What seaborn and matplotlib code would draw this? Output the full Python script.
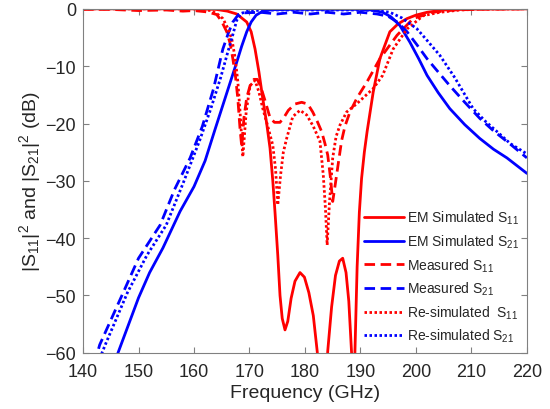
import matplotlib
matplotlib.use("Agg")
import matplotlib.pyplot as plt
import seaborn as sns
import pandas as pd

# ---------------- data ----------------
em_s11_f = [140, 150, 160, 164, 166, 167.7, 169.5, 170.3, 171, 171.7, 172.4, 173.1, 173.7, 174.2,
            174.6, 175.1, 175.5, 175.9, 176.4, 176.9, 177.5, 178.2, 179.1, 179.9, 180.7, 181.5,
            182.2, 182.8, 183.3, 183.8, 184.1, 184.8, 185.5, 186.2, 186.8, 187.4, 187.9, 188.4,
            188.7, 189.0, 189.4, 189.8, 190.2, 190.7, 191.2, 192.3, 193.5, 195.3, 196.8, 198.4,
            200, 202, 205, 210, 220]
em_s11_db = [0, 0, 0, -0.1, -0.4, -0.9, -2.3, -4, -7, -11, -15.7, -20, -24.3, -30,
             -35.5, -43, -50, -54, -56, -54.5, -50.5, -47.5, -46, -46.8, -49.5, -53.5,
             -59.7, -66, -75, -66, -59.7, -52, -46.5, -44, -43.5, -46, -51, -60,
             -68, -60, -45, -35.5, -29.6, -25, -21.4, -14.5, -8.7, -4, -2.6, -1.7,
             -1.1, -0.6, -0.2, -0.05, 0]

em_s21_f = [144, 146.3, 150, 152, 154.4, 157.5, 160, 162, 163.8, 165.6, 166.7, 167.7, 168.6,
            169.5, 170.3, 171.2, 172.4, 174, 178, 185, 190, 192, 194, 195.5, 197.1, 198.9,
            200.5, 202, 204, 206.1, 208.8, 211.5, 214, 216.4, 220]
em_s21_db = [-66, -60, -50.4, -46, -41.7, -35.3, -31, -26.5, -21, -15.6, -12.3, -9.3, -6.5,
             -4, -2.3, -1.1, -0.4, -0.15, -0.1, -0.1, -0.1, -0.2, -0.6, -1.4, -2.9, -5.8,
             -8.7, -11.6, -14.6, -17.4, -20.2, -22.6, -24.5, -26, -28.7]

meas_s11_f = [140, 145, 150, 155, 158, 160, 162, 163, 164.1, 165, 165.9, 166.5, 167, 167.5,
              167.9, 168.3, 168.6, 169, 169.5, 170.1, 170.8, 171.4, 172, 172.8, 173.7, 174.5,
              175.5, 176.3, 177, 178.2, 179.4, 180.5, 181.4, 182.2, 183, 183.6, 184.1, 184.6,
              185, 185.4, 186, 186.6, 187.2, 188.1, 189.4, 191.2, 193.5, 196.6, 199.5, 203,
              207, 212, 220]
meas_s11_db = [-0.1, -0.1, -0.3, -0.2, -0.4, -0.3, -0.5, -0.7, -1.0, -2.2, -4, -6, -8.7, -12,
               -15.7, -21, -24, -19, -15.5, -13.4, -12.3, -12.3, -13.5, -16, -19, -19.8,
               -19.8, -18.8, -17.7, -16.6, -16.3, -16.6, -18, -19.6, -21.4, -23.5, -25.5, -29.5,
               -33.6, -31, -27, -23, -20.5, -18, -15.5, -12.7, -8.7, -4.6, -1.7, -0.6,
               -0.2, -0.05, 0]

meas_s21_f = [142, 143, 147, 150, 153.9, 156.5, 159.3, 161.5, 163.5, 165.2, 166.2, 167, 168,
              169, 172, 175, 178, 181, 184, 187, 190, 193, 195, 196.8, 198.4, 200.2, 202,
              204, 206.1, 208.8, 211.5, 214, 217, 220]
meas_s21_db = [-62, -58.6, -50, -43.5, -37.7, -31.5, -26, -20.5, -14, -7, -4.2, -2.3, -1.0,
               -0.7, -0.6, -0.9, -0.6, -0.9, -0.6, -0.9, -0.6, -0.9, -1.3, -2.4, -4, -6.3, -8.7,
               -11, -13.4, -16.3, -19.1, -21.3, -23.6, -26]

resim_s11_f = [140, 160, 163, 164.2, 165.2, 166, 166.8, 167.4, 167.9, 168.3, 168.8, 169.4,
               170.1, 171, 171.7, 172.4, 173.3, 174.2, 174.7, 175.1, 175.6, 176.1, 176.7,
               177.8, 179.1, 180.3, 181.5, 182.7, 183.3, 183.7, 184, 184.4, 185, 185.6, 186.3,
               187.5, 189.4, 192.3, 194, 195.9, 198.4, 201.3, 204.3, 208, 212, 220]
resim_s11_db = [0, 0, -0.3, -0.9, -1.7, -3.2, -5.2, -8.5, -12.7, -18, -25.8, -18,
                -13.4, -12.5, -14.5, -17.4, -20.5, -23.8, -28, -34.2, -29, -25, -22.6,
                -18.8, -17.7, -18.5, -20.5, -23.1, -29, -35, -41.2, -34, -26, -22.3, -20.3,
                -18, -16.5, -13.9, -11.6, -7, -3.5, -1.2, -0.6, -0.2, -0.05, 0]

resim_s21_f = [143, 144, 148, 151.5, 155, 158, 161, 163, 164.8, 166.1, 167, 167.7, 168.5, 170,
               175, 190, 193, 195.3, 197.5, 200.2, 202, 204.3, 207, 210.3, 212.5, 214.6, 217, 220]
resim_s21_db = [-61, -58.6, -49.5, -43, -37.7, -30.5, -23, -17.5, -12, -7.5, -4.5, -2, -0.8, -0.3,
                -0.2, -0.2, -0.3, -0.6, -1.6, -3.5, -5.5, -8.1, -12, -17.4, -19.6, -21.4, -23.5, -25.3]

labels = ["EM Simulated S$_{11}$", "EM Simulated S$_{21}$", "Measured S$_{11}$",
          "Measured S$_{21}$", "Re-simulated  S$_{11}$", "Re-simulated S$_{21}$"]

x_ticks = [140, 150, 160, 170, 180, 190, 200, 210, 220]
y_ticks = [0, -10, -20, -30, -40, -50, -60]

# ---------------- plotting ----------------
sns.set_theme(style="white")
plt.rcParams["font.family"] = ["Liberation Sans", "DejaVu Sans"]
plt.rcParams["mathtext.default"] = "regular"

fig = plt.figure(figsize=(5.5, 4.1), dpi=100)
ax = fig.add_axes([0.151, 0.137, 0.807, 0.839])

RED = "#FF0000"
BLUE = "#0000FF"
series = [
    (em_s11_f, em_s11_db, RED, None),
    (em_s21_f, em_s21_db, BLUE, None),
    (meas_s11_f, meas_s11_db, RED, (3.8, 2.0)),
    (meas_s21_f, meas_s21_db, BLUE, (3.8, 2.0)),
    (resim_s11_f, resim_s11_db, RED, (0.9, 0.9)),
    (resim_s21_f, resim_s21_db, BLUE, (0.9, 0.9)),
]

handles = []
for (f, d, c, dash), lab in zip(series, labels):
    df = pd.DataFrame({"f": f, "db": d})
    sns.lineplot(data=df, x="f", y="db", ax=ax, color=c, linewidth=2.0,
                 sort=False, estimator=None)
    ln = ax.lines[-1]
    if dash is not None:
        ln.set_dashes(dash)
    ln.set_label(lab)
    handles.append(ln)

ax.set_xlim(140, 220)
ax.set_ylim(-60, 0)
ax.set_xticks(x_ticks)
ax.set_yticks(y_ticks)
ax.set_xlabel("Frequency (GHz)", fontsize=14, color="#262626", labelpad=3)
ax.set_ylabel("|S$_{11}$|$^2$ and |S$_{21}$|$^2$ (dB)", fontsize=14, color="#262626", labelpad=2)
ax.tick_params(direction="in", length=4, width=0.8, color="#808080",
               top=True, right=True, labelsize=13, labelcolor="#262626",
               bottom=True, left=True)
ax.tick_params(axis="x", pad=7)
ax.tick_params(axis="y", pad=5)
for sp in ax.spines.values():
    sp.set_visible(True)
    sp.set_color("#808080")
    sp.set_linewidth(0.8)

leg = ax.legend(handles=handles, labels=labels, loc="lower right", frameon=False,
                fontsize=10, handlelength=2.9, handletextpad=0.2, labelspacing=0.45,
                borderaxespad=0.2)

fig.savefig("out.png", dpi=100)
